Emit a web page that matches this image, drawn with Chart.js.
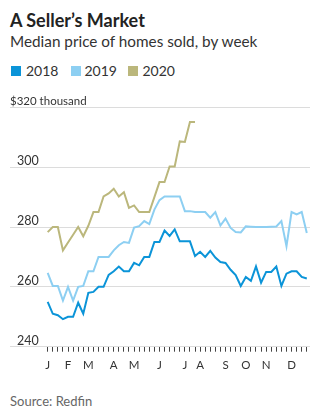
<!DOCTYPE html>
<html>
<head>
<meta charset="utf-8">
<script src="https://cdn.jsdelivr.net/npm/chart.js"></script>
<style>
  body { margin: 0; background: #fff; font-family: Lato, sans-serif; }
  #wrap { position: relative; width: 331px; height: 416px; overflow: hidden; }
  .t { position: absolute; white-space: nowrap; line-height: 1; }
  #titulo { left: 10px; top: 10.5px; font-size: 18px; font-weight: bold; color: #222; }
  #subtitulo { left: 10px; top: 33.5px; font-size: 15.3px; color: #333; }
  .sq { position: absolute; width: 10px; height: 10px; top: 66px; }
  .leg { top: 63.5px; font-size: 14px; color: #333; }
  #fonte { left: 10px; top: 395px; font-size: 13px; color: #666; }
  #grafico { position: absolute; left: 0; top: 95px; }
</style>
</head>
<body>
<div id="wrap">
  <div class="t" id="titulo">A Seller’s Market</div>
  <div class="t" id="subtitulo">Median price of homes sold, by week</div>
  <div id="legenda"></div>
  <canvas id="grafico" width="331" height="290"></canvas>
  <div class="t" id="fonte">Source: Redfin</div>
</div>
<script>
// Dados (mediana semanal, em milhares de dólares)
const anos = ['2018', '2019', '2020'];
const cores = ['#0b94d8', '#8dcff2', '#bbb77c'];

const precos2018 = [255, 251, 250.5, 249.2, 250, 250, 254.7, 251, 258, 258.3, 260, 260, 264, 265.2, 266.8, 265.2, 265.2, 268, 267.2, 270,
  270, 275, 275, 278.8, 277, 279.2, 275.2, 275.2, 275.2, 270.3, 271.7, 270, 272, 269.8, 268.3, 268, 265.7, 263.9, 260.3, 263.3,
  262, 266.8, 261.4, 265, 265, 266.8, 260.3, 264.4, 265.2, 265.2, 263.3, 262.8];
const precos2019 = [264.7, 260.3, 260.3, 255.4, 260, 255.4, 260, 260.3, 265.2, 265.2, 270, 270, 270, 272.2, 273.9, 275, 274.7, 279.8, 280.3, 282,
  281, 285.8, 289, 290.2, 290.2, 290.2, 290.2, 285.3, 285.3, 285, 285, 285, 283.1, 285, 280.5, 282.8, 279.7, 278.3, 278.2, 280.2,
  280.1, 280, 280, 280, 280.1, 280.2, 282, 273.6, 285, 284.2, 285, 278];
const precos2020 = [278.3, 280, 280, 272.2, 274.8, 277.4, 280, 276.9, 280.4, 285, 285, 290.2, 291.2, 292.8, 290.2, 291.6, 286.4, 287.2, 285, 285,
  285, 290, 295, 295, 300.2, 300.2, 308.6, 308.4, 315.1, 315.1];

// Rótulos dos meses e a semana em que aparecem
const meses = ['J', 'F', 'M', 'A', 'M', 'J', 'J', 'A', 'S', 'O', 'N', 'D'];
const semanaMes = [0, 4, 8, 13, 17, 22, 27, 30, 35, 39, 43, 48];

const yTicks = [240, 260, 280, 300, 320];
const yRotulos = ['240', '260', '280', '300', '$320 thousand'];

// Legenda em HTML
const legenda = document.getElementById('legenda');
const posLegenda = [[11, 26], [71, 84.5], [128, 142.5]];
anos.forEach((ano, i) => {
  const sq = document.createElement('div');
  sq.className = 'sq';
  sq.style.left = posLegenda[i][0] + 'px';
  sq.style.background = cores[i];
  legenda.appendChild(sq);
  const txt = document.createElement('div');
  txt.className = 't leg';
  txt.style.left = posLegenda[i][1] + 'px';
  txt.textContent = ano;
  legenda.appendChild(txt);
});

function pontos(valores) {
  return valores.map((v, i) => ({ x: i, y: v }));
}

// Rótulos do eixo y desenhados acima das linhas de grade
const rotulosY = {
  id: 'rotulosY',
  afterDraw(chart) {
    const ctx = chart.ctx;
    const escala = chart.scales.y;
    ctx.save();
    ctx.fillStyle = '#333';
    ctx.textBaseline = 'alphabetic';
    yTicks.forEach((v, i) => {
      const py = escala.getPixelForValue(v) - 2;
      if (v === 320) {
        ctx.font = '11.5px Lato';
        ctx.fillText(yRotulos[i], 10, py);
      } else {
        ctx.font = '12.5px Lato';
        ctx.fillText(yRotulos[i], 17, py);
      }
    });
    ctx.restore();
  }
};

Chart.defaults.font.family = 'Lato';

const series = [precos2018, precos2019, precos2020];

new Chart(document.getElementById('grafico').getContext('2d'), {
  type: 'line',
  data: {
    datasets: series.map((s, i) => ({
      label: anos[i],
      data: pontos(s),
      borderColor: cores[i],
      borderWidth: 2,
      pointRadius: 0,
      tension: 0,
      fill: false
    }))
  },
  options: {
    responsive: false,
    animation: false,
    layout: { padding: { left: 10, right: 21, top: 12.3, bottom: 5.5 } },
    plugins: {
      legend: { display: false },
      tooltip: { enabled: false }
    },
    scales: {
      x: {
        type: 'linear',
        min: -7.42,
        max: 51.63,
        afterBuildTicks: (scale) => {
          scale.ticks = precos2018.map((v, i) => ({ value: i }));
        },
        grid: {
          drawOnChartArea: false,
          drawTicks: true,
          tickLength: 5,
          color: '#444',
          lineWidth: 1
        },
        border: { display: false },
        ticks: {
          autoSkip: false,
          maxRotation: 0,
          padding: 7,
          color: '#333',
          font: { size: 11.5 },
          callback: (v) => {
            const idx = semanaMes.indexOf(v);
            return idx >= 0 ? meses[idx] : '';
          }
        }
      },
      y: {
        min: 240,
        max: 320,
        afterBuildTicks: (scale) => {
          scale.ticks = yTicks.map(v => ({ value: v }));
        },
        grid: { color: '#dcdcdc', lineWidth: 1, drawTicks: false },
        border: { display: false },
        ticks: { display: false }
      }
    }
  },
  plugins: [rotulosY]
});
</script>
</body>
</html>
